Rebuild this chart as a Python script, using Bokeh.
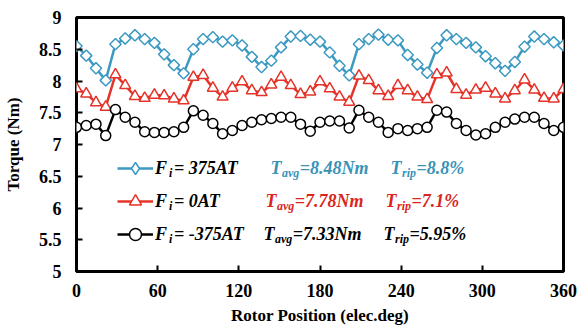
from bokeh.plotting import figure
from bokeh.models import Range1d, Label, Legend, LegendItem, FixedTicker, ColumnDataSource
from bokeh.embed import file_html
from bokeh.resources import INLINE

# ---------------- data ----------------
rotor_position = [0, 7.2, 14.4, 21.6, 28.8, 36, 43.2, 50.4, 57.6, 64.8, 72, 79.2, 86.4,
                  93.6, 100.8, 108, 115.2, 122.4, 129.6, 136.8, 144, 151.2, 158.4, 165.6,
                  172.8, 180, 187.2, 194.4, 201.6, 208.8, 216, 223.2, 230.4, 237.6, 244.8,
                  252, 259.2, 266.4, 273.6, 280.8, 288, 295.2, 302.4, 309.6, 316.8, 324,
                  331.2, 338.4, 345.6, 352.8, 360]

torque_pos375 = [8.55, 8.40, 8.20, 8.01, 8.58, 8.67, 8.72, 8.66, 8.60, 8.42, 8.25, 8.12,
                 8.50, 8.66, 8.69, 8.62, 8.64, 8.56, 8.38, 8.22, 8.32, 8.53, 8.70, 8.71,
                 8.65, 8.62, 8.45, 8.24, 8.09, 8.58, 8.66, 8.73, 8.65, 8.64, 8.41, 8.26,
                 8.13, 8.52, 8.72, 8.66, 8.60, 8.53, 8.39, 8.28, 8.16, 8.30, 8.54, 8.70,
                 8.66, 8.61, 8.56]

torque_zero = [7.88, 7.80, 7.66, 7.59, 8.10, 7.93, 7.76, 7.73, 7.78, 7.77, 7.72, 7.69,
               8.06, 8.09, 7.89, 7.75, 7.89, 7.99, 7.85, 7.82, 7.94, 8.06, 7.93, 7.79,
               7.83, 7.99, 7.88, 7.75, 7.67, 8.08, 8.01, 7.85, 7.76, 7.93, 7.85, 7.75,
               7.71, 8.10, 8.13, 7.87, 7.78, 7.86, 7.89, 7.80, 7.72, 7.85, 8.02, 7.86,
               7.73, 7.72, 7.87]

torque_neg375 = [7.27, 7.30, 7.32, 7.14, 7.55, 7.43, 7.35, 7.20, 7.19, 7.19, 7.20, 7.27,
                 7.53, 7.46, 7.33, 7.17, 7.22, 7.30, 7.35, 7.39, 7.41, 7.43, 7.43, 7.32,
                 7.21, 7.35, 7.37, 7.37, 7.26, 7.54, 7.43, 7.35, 7.19, 7.25, 7.22, 7.25,
                 7.27, 7.54, 7.51, 7.33, 7.22, 7.15, 7.17, 7.27, 7.35, 7.40, 7.43, 7.43,
                 7.33, 7.22, 7.27]

x_ticks = [0, 60, 120, 180, 240, 300, 360]
y_ticks = [5, 5.5, 6, 6.5, 7, 7.5, 8, 8.5, 9]
y_tick_labels = ["5", "5.5", "6", "6.5", "7", "7.5", "8", "8.5", "9"]

series_names = ["= 375AT", "= 0AT", "= -375AT"]
tavg_texts = ["=8.48Nm", "=7.78Nm", "=7.33Nm"]
trip_texts = ["=8.8%", "=7.1%", "=5.95%"]

# ---------------- styles ----------------
BLUE = "#3C9AC2"
BLUE_TXT = "#3A93B6"
RED = "#E5332A"
RED_TXT = "#D9261C"
BLACK = "#000000"
FONT = "Liberation Serif"

p = figure(width=578, height=331, x_range=Range1d(0, 360), y_range=Range1d(5, 9),
           output_backend="svg", toolbar_location=None,
           min_border_left=76, min_border_right=15, min_border_top=17, min_border_bottom=60,
           background_fill_color="white", border_fill_color="white")
p.xgrid.visible = False
p.ygrid.visible = False
p.outline_line_color = "black"
p.outline_line_width = 3
p.outline_line_alpha = 1

p.xaxis.ticker = FixedTicker(ticks=x_ticks)
p.yaxis.ticker = FixedTicker(ticks=y_ticks)
p.yaxis.major_label_overrides = {t: l for t, l in zip(y_ticks, y_tick_labels)}
p.xaxis.axis_label = "Rotor Position (elec.deg)"
p.yaxis.axis_label = "Torque (Nm)"

for ax in (p.xaxis[0], p.yaxis[0]):
    ax.axis_line_color = None
    ax.major_tick_in = 6
    ax.major_tick_out = 0
    ax.major_tick_line_color = "black"
    ax.major_tick_line_width = 2
    ax.minor_tick_line_color = None
    ax.major_label_text_font = FONT
    ax.major_label_text_font_style = "bold"
    ax.major_label_text_font_size = "18px"
    ax.major_label_text_color = "black"
    ax.axis_label_text_font = FONT
    ax.axis_label_text_font_style = "bold"
    ax.axis_label_text_font_size = "17px"
    ax.axis_label_text_color = "black"
p.xaxis.major_label_standoff = 12
p.yaxis.major_label_standoff = 15
p.xaxis.axis_label_standoff = 6
p.yaxis.axis_label_standoff = 13

src = ColumnDataSource(dict(x=rotor_position, a=torque_pos375, b=torque_zero, c=torque_neg375))

lb = p.line("x", "a", source=src, line_color=BLUE, line_width=2.5)
sb = p.scatter("x", "a", source=src, marker="square", angle=0.7853981634, size=8,
               line_color=BLUE, line_width=1.5, fill_color="white")
# legend-only diamond (the legend never rotates markers)
sb_leg = p.scatter("x", "a", source=src, marker="diamond", size=12, visible=False,
                   line_color=BLUE, line_width=1.5, fill_color="white")
lr = p.line("x", "b", source=src, line_color=RED, line_width=2.5)
sr = p.scatter("x", "b", source=src, marker="triangle", size=11,
               line_color=RED, line_width=1.5, fill_color="white")
lk = p.line("x", "c", source=src, line_color=BLACK, line_width=2.5)
sk = p.scatter("x", "c", source=src, marker="circle", size=10,
               line_color=BLACK, line_width=1.5, fill_color="white")

legend = Legend(items=[LegendItem(label="F", renderers=[lb, sb_leg]),
                       LegendItem(label="F", renderers=[lr, sr]),
                       LegendItem(label="F", renderers=[lk, sk])],
                location=(41, 22), orientation="vertical",
                glyph_width=36, glyph_height=30, label_height=30, spacing=3,
                padding=0, margin=0, label_standoff=2,
                border_line_color=None, background_fill_alpha=0,
                label_text_font=FONT, label_text_font_style="bold italic",
                label_text_font_size="18px", label_text_color="black")
p.add_layout(legend)

# ---------------- legend texts ----------------
W = {' ': 250, '%': 833, '(': 333, ')': 333, '-': 333, '.': 250, '=': 570, 'A': 667,
     'F': 667, 'N': 722, 'T': 611, 'a': 500, 'g': 500, 'i': 278, 'm': 778, 'p': 500,
     'r': 389, 'v': 444}


def tw(s, size):
    return sum(W.get(c, 500) for c in s) * size / 1000.0


FRAME_LEFT = 76
FRAME_BOTTOM = 271
PX_PER_UNIT = 63.5


def put(txt, sx, sy, size, color, sub=False):
    yv = 5 + (FRAME_BOTTOM - sy) / PX_PER_UNIT
    p.add_layout(Label(x=0, y=yv, x_offset=sx - FRAME_LEFT, y_offset=(-5 if sub else 0),
                       text=txt, text_font=FONT, text_font_style="bold italic",
                       text_font_size=f"{size}px", text_color=color,
                       text_baseline="middle", text_align="left"))


row_centers = [167.5, 200.5, 233.5]
tavg_x = [270, 265, 263]
trip_x = [390, 385, 383]
row_colors = [BLUE_TXT, RED_TXT, BLACK]

for k in range(3):
    cy = row_centers[k]
    col = row_colors[k]
    # F_i = ...
    put("i", 168.5, cy, 12, "black", sub=True)
    put(series_names[k], 173.5, cy, 18, "black")
    # T_avg
    x0 = tavg_x[k]
    put("T", x0, cy, 18, col)
    xs = x0 + tw("T", 18) + 0.5
    put("avg", xs, cy, 12, col, sub=True)
    put(tavg_texts[k], xs + tw("avg", 12) + 0.5, cy, 18, col)
    # T_rip
    x0 = trip_x[k]
    put("T", x0, cy, 18, col)
    xs = x0 + tw("T", 18) + 0.5
    put("rip", xs, cy, 12, col, sub=True)
    put(trip_texts[k], xs + tw("rip", 12) + 0.5, cy, 18, col)

open("out.html", "w").write(file_html(p, INLINE))
